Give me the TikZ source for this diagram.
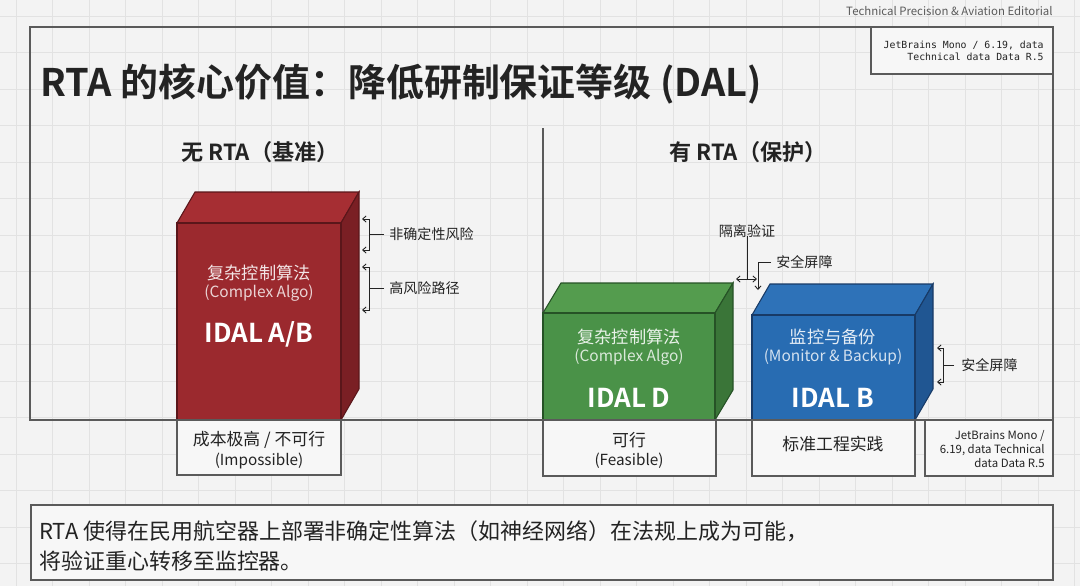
\documentclass[tikz,border=0pt]{standalone}
\usepackage{fontspec}
\setmainfont{Noto Sans CJK SC}[BoldFont={Noto Sans CJK SC Bold}]
\newfontfamily\codefont{DejaVu Sans Mono}
\usetikzlibrary{arrows.meta}
\definecolor{bggray}{RGB}{243,243,243}
\definecolor{gridgray}{RGB}{226,226,226}
\definecolor{framegray}{RGB}{90,90,90}
\definecolor{labelfill}{RGB}{247,247,247}
\definecolor{inkdark}{RGB}{35,35,35}
\definecolor{redfront}{RGB}{155,41,46}
\definecolor{redtop}{RGB}{166,46,51}
\definecolor{redside}{RGB}{122,31,36}
\definecolor{redline}{RGB}{90,22,26}
\definecolor{greenfront}{RGB}{74,146,72}
\definecolor{greentop}{RGB}{84,156,78}
\definecolor{greenside}{RGB}{58,117,56}
\definecolor{greenline}{RGB}{38,82,38}
\definecolor{bluefront}{RGB}{40,108,178}
\definecolor{bluetop}{RGB}{46,114,184}
\definecolor{blueside}{RGB}{32,86,146}
\definecolor{blueline}{RGB}{24,58,102}
\newcommand{\fs}[1]{\fontsize{#1}{1.2\dimexpr#1pt\relax}\selectfont}

\begin{document}
\begin{tikzpicture}[x=0.02cm, y=-0.02cm,
    gridline/.style={draw=gridgray, line width=0.4pt},
    frameline/.style={draw=framegray, line width=0.75pt},
    cjkin/.style={text=white, text opacity=0.88, inner sep=0, font=\fs{9.8}},
    enin/.style={text=white, text opacity=0.8, inner sep=0, font=\fs{8.8}},
    idal/.style={text=white, inner sep=0, font=\fs{14.8}\bfseries},
    lbl/.style={text=inkdark, inner sep=0, align=center},
    note/.style={text=inkdark, inner sep=0, anchor=west, font=\fs{8}},
    brk/.style={draw=inkdark, line width=0.5pt, {Straight Barb[length=2pt,width=3.5pt]}-{Straight Barb[length=2pt,width=3.5pt]}},
    lead/.style={draw=inkdark, line width=0.5pt}]
  \useasboundingbox (0,0) rectangle (1080,586);
  \fill[bggray] (0,0) rectangle (1080,586);
  \foreach \gx in {16,52.5,...,1080} \draw[gridline] (\gx,0) -- (\gx,586);
  \foreach \gy in {16,52.5,...,586} \draw[gridline] (0,\gy) -- (1080,\gy);

  % header and frame
  \node[anchor=east, inner sep=0, text=framegray, font=\fs{6.5}] (editorial) at (1053,11)
    {Technical Precision \& Aviation Editorial};
  \draw[frameline] (30,27) rectangle (1053,420);
  \draw[frameline, fill=labelfill] (871,27) rectangle (1053,74);
  \node[anchor=east, inner sep=0, align=right, text=inkdark, font=\codefont\fs{5.6}] (datatop) at (1044,51)
    {JetBrains Mono / 6.19, data\\Technical data Data R.5};
  \node[anchor=west, inner sep=0, text=inkdark, font=\fs{21.6}\bfseries] (title) at (40,84)
    {RTA 的核心价值：降低研制保证等级 (DAL)};
  \draw[frameline] (543,128) -- (543,420);
  \node[inner sep=0, text=inkdark, font=\fs{12.6}\bfseries] (hdleft) at (260,152) {无 RTA（基准）};
  \node[inner sep=0, text=inkdark, font=\fs{12.6}\bfseries] (hdright) at (748,152) {有 RTA（保护）};

  % red block
  \filldraw[fill=redtop, draw=redline, line width=0.6pt] (177,223) -- (195,192) -- (359,192) -- (341,223) -- cycle;
  \filldraw[fill=redside, draw=redline, line width=0.6pt] (341,223) -- (359,192) -- (359,389) -- (341,420) -- cycle;
  \filldraw[fill=redfront, draw=redline, line width=0.6pt] (177,223) rectangle (341,420);
  \node[cjkin] (redcn) at (259,273) {复杂控制算法};
  \node[enin] (reden) at (259,293) {(Complex Algo)};
  \node[idal] (redidal) at (259,334) {IDAL A/B};

  % green block
  \filldraw[fill=greentop, draw=greenline, line width=0.6pt] (543,313) -- (561,283) -- (733,283) -- (715,313) -- cycle;
  \filldraw[fill=greenside, draw=greenline, line width=0.6pt] (715,313) -- (733,283) -- (733,390) -- (715,420) -- cycle;
  \filldraw[fill=greenfront, draw=greenline, line width=0.6pt] (543,313) rectangle (715,420);
  \node[cjkin] (grncn) at (629,337) {复杂控制算法};
  \node[enin] (grnen) at (629,357) {(Complex Algo)};
  \node[idal] (grnidal) at (629,398) {IDAL D};

  % blue block
  \filldraw[fill=bluetop, draw=blueline, line width=0.6pt] (752,315) -- (770,284) -- (933,284) -- (915,315) -- cycle;
  \filldraw[fill=blueside, draw=blueline, line width=0.6pt] (915,315) -- (933,284) -- (933,389) -- (915,420) -- cycle;
  \filldraw[fill=bluefront, draw=blueline, line width=0.6pt] (752,315) rectangle (915,420);
  \node[cjkin] (bluecn) at (833,337) {监控与备份};
  \node[enin] (blueen) at (833,357) {(Monitor \& Backup)};
  \node[idal] (blueidal) at (833,398) {IDAL B};

  % annotations
  \node[note] (riskA) at (389,234) {非确定性风险};
  \node[note] (riskB) at (389,288) {高风险路径};
  \coordinate (rkAt) at (362,219); \coordinate (rkAb) at (362,250);
  \coordinate (rkBt) at (362,267); \coordinate (rkBb) at (362,310);
  \draw[brk] (rkAt) -- ++(7,0) |- (rkAb);
  \draw[lead] (riskA.west) ++(-5,0) -- (369,234);
  \draw[brk] (rkBt) -- ++(7,0) |- (rkBb);
  \draw[lead] (riskB.west) ++(-5,0) -- (369,288);

  \node[inner sep=0, text=inkdark, font=\fs{8}] (isol) at (747,231) {隔离验证};
  \coordinate (isoL) at (736,279); \coordinate (isoR) at (757,279);
  \draw[brk] (isoL) -- (isoR);
  \draw[lead] (isol.south) ++(0,-2) -- (747,279);
  \node[note] (barrA) at (776,262) {安全屏障};
  \coordinate (barrAend) at (758,290);
  \draw[lead, -{Straight Barb[length=2pt,width=3.5pt]}] (barrA.west) ++(-5,0) -| (barrAend);

  \node[note] (barrB) at (961,365) {安全屏障};
  \coordinate (bbt) at (937,348); \coordinate (bbb) at (937,382);
  \draw[brk] (bbt) -- ++(6,0) |- (bbb);
  \draw[lead] (barrB.west) ++(-7,0) -- (943,365);

  % label boxes under the blocks
  \draw[frameline, fill=labelfill] (177,420) -- (177,475) -- (341,475) -- (341,420);
  \node[lbl, font=\fs{9.6}] (redres) at (259,440) {成本极高 / 不可行};
  \node[lbl, font=\fs{8.7}] (redresen) at (259,461) {(Impossible)};
  \draw[frameline, fill=labelfill] (543,420) -- (543,476) -- (716,476) -- (716,420);
  \node[lbl, font=\fs{9.6}] (grnres) at (629,440) {可行};
  \node[lbl, font=\fs{8.7}] (grnresen) at (629,461) {(Feasible)};
  \draw[frameline, fill=labelfill] (752,420) -- (752,476) -- (915,476) -- (915,420);
  \node[lbl, font=\fs{9.6}] (blueres) at (833,444) {标准工程实践};
  \draw[frameline, fill=labelfill] (925,420) -- (925,476) -- (1053,476) -- (1053,420);
  \node[anchor=east, inner sep=0, align=right, text=inkdark, font=\fs{6.5}] (databot) at (1045,449)
    {JetBrains Mono /\\6.19, data Technical\\data Data R.5};
  \draw[frameline] (30,420) -- (1053,420);

  % bottom statement
  \draw[frameline, fill=labelfill] (31,505) rectangle (1053,580);
  \node[anchor=west, inner sep=0, align=left, text=inkdark, font=\fontsize{12.5}{17.6}\selectfont] (summary) at (39,546)
    {RTA 使得在民用航空器上部署非确定性算法（如神经网络）在法规上成为可能，\\将验证重心转移至监控器。};
\end{tikzpicture}
\end{document}
